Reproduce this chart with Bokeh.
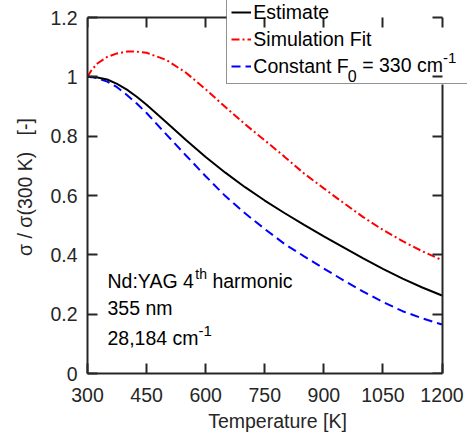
from bokeh.plotting import figure
from bokeh.models import Range1d, LinearAxis, FixedTicker, Legend, LegendItem, Label
from bokeh.embed import file_html
from bokeh.resources import INLINE

# ---- data ----
temps = [300, 310, 325, 350, 375, 400, 425, 450, 500, 550, 600, 650, 700,
         750, 800, 850, 900, 950, 1000, 1050, 1100, 1150, 1200]
estimate = [1.000, 1.000, 0.998, 0.991, 0.976, 0.957, 0.933, 0.906, 0.847,
            0.787, 0.730, 0.677, 0.628, 0.583, 0.541, 0.501, 0.462, 0.425,
            0.388, 0.353, 0.320, 0.290, 0.263]
sim_fit = [1.000, 1.022, 1.045, 1.067, 1.079, 1.085, 1.085, 1.081, 1.057,
           1.014, 0.958, 0.898, 0.840, 0.786, 0.731, 0.674, 0.624, 0.575,
           0.527, 0.484, 0.446, 0.412, 0.382]
constant_f0 = [1.000, 0.999, 0.995, 0.984, 0.965, 0.939, 0.910, 0.878, 0.806,
               0.735, 0.665, 0.598, 0.540, 0.487, 0.437, 0.395, 0.354, 0.314,
               0.276, 0.241, 0.210, 0.186, 0.165]
x_ticks = [300, 450, 600, 750, 900, 1050, 1200]
y_ticks = [0, 0.2, 0.4, 0.6, 0.8, 1, 1.2]
y_tick_overrides = {0: "0", 1: "1"}
legend_labels = ["Estimate", "Simulation Fit", "Constant F"]

X_MIN, X_MAX = 300, 1200
Y_MIN, Y_MAX = 0, 1.2

FONT = "Liberation Sans"
FS = 19.5
GREY = "#262626"

# pixel layout of the axes box in the 467x438 picture
BOX_L, BOX_R, BOX_T, BOX_B = 87, 441.5, 17, 373
CANVAS_W, CANVAS_H = 467, 438
KPX = (X_MAX - X_MIN) / (BOX_R - BOX_L)
VPX = (Y_MAX - Y_MIN) / (BOX_B - BOX_T)
LEG_L, LEG_B = 226.3, 84.3     # legend box left / bottom edge (pixels)

# Arial / Liberation Sans advance widths (per em)
AW = {" ": .278, "N": .722, "d": .556, ":": .278, "Y": .667, "A": .667,
      "G": .778, "t": .278, "h": .556, "a": .556, "r": .333, "m": .833,
      "o": .556, "n": .556, "i": .222, "c": .5, ",": .278, "-": .333,
      "C": .722, "s": .5, "F": .611, "=": .584, "e": .556}
for d in "0123456789":
    AW[d] = .556


def tw(s, size):
    return sum(AW.get(ch, .556) for ch in s) * size


def px2x(px):
    return X_MIN + (px - BOX_L) * KPX


def py2y(py):
    return (BOX_B - py) * VPX


# the frame reaches the top and right edge of the canvas so that the legend
# (which overlaps the axes box there) is not clipped; axes are bounded to the box
x_end = px2x(CANVAS_W)
y_end = py2y(0)

p = figure(width=CANVAS_W, height=CANVAS_H, x_range=Range1d(X_MIN, x_end),
           y_range=Range1d(Y_MIN, y_end),
           output_backend="svg", toolbar_location=None,
           min_border_left=BOX_L, min_border_right=0, min_border_top=0,
           min_border_bottom=CANVAS_H - BOX_B,
           x_axis_label="Temperature [K]",
           y_axis_label="σ / σ(300 K)\u00a0\u00a0\u00a0[-]")
p.title.visible = False
p.outline_line_color = None
p.grid.visible = False
p.background_fill_color = "white"
p.border_fill_color = "white"


def style_axis(ax, ticks, bounds, labels=True, tin=10, tout=0):
    ax.ticker = FixedTicker(ticks=ticks)
    ax.bounds = bounds
    ax.axis_line_color = GREY
    ax.axis_line_width = 2
    ax.major_tick_line_color = GREY
    ax.major_tick_line_width = 2
    ax.major_tick_in = tin
    ax.major_tick_out = tout
    ax.minor_tick_line_color = None
    if labels:
        ax.major_label_text_font = FONT
        ax.major_label_text_font_size = f"{FS}px"
        ax.major_label_text_color = GREY
        ax.axis_label_text_font = FONT
        ax.axis_label_text_font_size = f"{FS}px"
        ax.axis_label_text_color = GREY
        ax.axis_label_text_font_style = "normal"
    else:
        ax.major_label_text_font_size = "0px"
        ax.major_label_standoff = 0


style_axis(p.xaxis[0], x_ticks, (X_MIN, X_MAX))
style_axis(p.yaxis[0], y_ticks, (Y_MIN, Y_MAX))
p.xaxis[0].major_label_standoff = 14
p.xaxis[0].axis_label_standoff = 5
p.yaxis[0].major_label_standoff = 10
p.yaxis[0].axis_label_standoff = 11
p.yaxis[0].major_label_overrides = y_tick_overrides

# mirrored box edges with inward ticks; they stop where the legend box covers them
top_ax = LinearAxis(fixed_location=Y_MAX)
style_axis(top_ax, x_ticks, (X_MIN, px2x(LEG_L)), labels=False, tin=0, tout=10)
p.add_layout(top_ax, "below")
right_ax = LinearAxis(fixed_location=X_MAX)
style_axis(right_ax, y_ticks, (Y_MIN, py2y(LEG_B)), labels=False, tin=0, tout=10)
p.add_layout(right_ax, "left")

r_con = p.line(temps, constant_f0, line_color="#0000FF", line_width=2, line_dash="9 5")
r_sim = p.line(temps, sim_fit, line_color="#FF0000", line_width=2, line_dash="8 3 2 3")
r_est = p.line(temps, estimate, line_color="black", line_width=2)

legend = Legend(items=[LegendItem(label=legend_labels[0], renderers=[r_est]),
                       LegendItem(label=legend_labels[1], renderers=[r_sim]),
                       LegendItem(label=legend_labels[2], renderers=[r_con])],
                location=(LEG_L - BOX_L, BOX_B - LEG_B), padding=4, spacing=1,
                label_height=26, glyph_height=26, glyph_width=20, label_standoff=2,
                label_width=250, border_line_color=GREY, border_line_width=1.5,
                label_text_font=FONT, label_text_font_size=f"{FS}px",
                label_text_color="black", background_fill_alpha=0, margin=0)
p.add_layout(legend)


def add_text(px, py, text, size):
    # baseline py in picture pixels; empirical correction for the text box
    p.add_layout(Label(x=px2x(px), y=py2y(py - 0.5 * size), text=text, text_font=FONT,
                       text_font_size=f"{size}px", text_color="black",
                       text_align="left", text_baseline="alphabetic"))


# legend subscript / superscript parts
SUB, SUP = 16, 15
x0 = 252 + tw("Constant F", FS)
add_text(x0, 83, "0", SUB)
x1 = x0 + tw("0", SUB) + tw(" ", FS)
add_text(x1, 74, "= 330 cm", FS)
add_text(x1 + tw("= 330 cm", FS), 65, "-1", SUP)

# annotation
ax0 = 107
add_text(ax0, 290, "Nd:YAG 4", FS)
xa = ax0 + tw("Nd:YAG 4", FS)
add_text(xa, 280, "th", 14)
add_text(xa + tw("th", 14) + tw(" ", FS), 290, "harmonic", FS)
add_text(ax0, 317, "355 nm", FS)
add_text(ax0, 347, "28,184 cm", FS)
add_text(ax0 + tw("28,184 cm", FS), 338, "-1", SUP)

open("out.html", "w").write(file_html(p, INLINE))
